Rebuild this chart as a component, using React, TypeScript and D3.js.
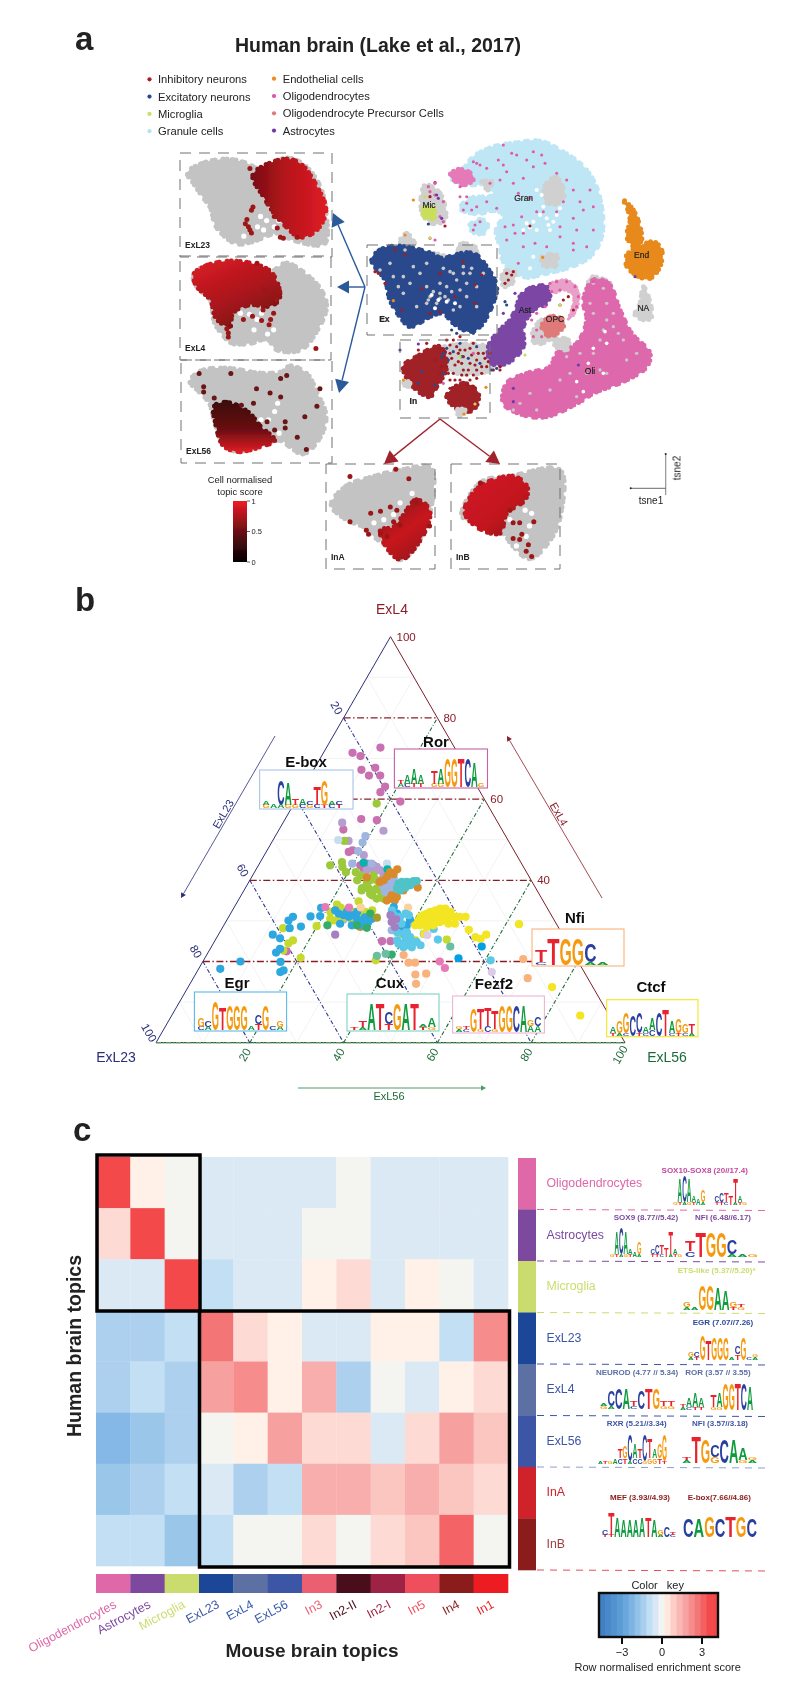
import React from "react";
import * as d3 from "d3";

type P = [number, number];
const FONT = "'Liberation Sans', Arial, sans-serif";

/* ---------- panel a: data ---------- */
const legendLeft = [["Inhibitory neurons", "#a81c2b"], ["Excitatory neurons", "#2a4a8c"], ["Microglia", "#c9df6c"], ["Granule cells", "#b5e3f5"]];
const legendRight = [["Endothelial cells", "#ee8a1a"], ["Oligodendrocytes", "#e04fa8"], ["Oligodendrocyte Precursor Cells", "#e07a7a"], ["Astrocytes", "#6f3ba8"]];

const granCloud: P[] = [[270,105],[310,85],[340,50],[400,20],[470,8],[540,3],[600,30],[660,70],[700,120],[725,200],[725,290],[690,350],[620,385],[560,400],[500,412],[470,400],[430,365],[420,320],[408,270],[430,225],[400,212],[350,222],[300,205],[330,175],[400,165],[385,135],[320,135],[280,122]];
const granSmall: P[] = [[328,258],[360,238],[382,250],[375,278],[345,280]];
const pinkPatch: P[] = [[270,105],[295,88],[330,98],[340,118],[312,135],[285,122]];
const grayPatches: P[][] = [
  [[555,135],[590,112],[612,170],[580,195],[555,180]],
  [[365,125],[395,125],[385,150]],
  [[545,352],[590,345],[585,380],[550,375]],
  [[120,305],[140,280],[165,315]],
  [[290,325],[310,310],[355,330],[340,350]],
  [[215,340],[255,350],[240,362]],
  [[195,135],[240,160],[255,240],[215,250],[185,215]],
  [[850,440],[865,470],[875,530],[860,540],[825,525],[840,490]],
  [[580,598],[625,600],[622,628],[590,622]],
  [[230,632],[380,620],[400,680],[350,702],[270,692]],
  [[430,395],[465,395],[450,438],[430,438]],
  [[515,590],[545,540],[575,590],[530,612]],
  [[690,412],[750,430],[745,470],[690,450]],
  [[130,720],[150,730],[140,745]],
  [[285,810],[315,810],[305,830]]
];
const endCloud: P[] = [[790,180],[820,210],[840,260],[845,300],[830,320],[880,305],[905,330],[900,380],[870,415],[840,412],[800,378],[800,345],[820,325],[800,290],[810,240],[800,200]];
const oliCloud: P[] = [[700,420],[745,430],[780,510],[815,580],[870,640],[860,680],[800,720],[700,760],[660,785],[560,830],[490,825],[430,790],[440,730],[500,700],[570,680],[590,640],[650,610],[680,540],[670,480]];
const astCloud: P[] = [[480,470],[510,445],[570,440],[560,490],[520,510],[490,560],[490,620],[440,670],[395,670],[385,620],[420,570],[450,540],[470,500]];
const opcRing: P[] = [[570,432],[620,420],[655,450],[650,510],[625,540],[640,470],[610,450],[580,460]];
const opcCloud: P[] = [[545,560],[570,530],[610,540],[610,560],[570,590]];
const micCloud: P[] = [[190,205],[220,205],[225,230],[205,238],[190,225]];
const exCloud: P[] = [[35,360],[60,330],[110,318],[200,335],[250,355],[280,345],[340,340],[380,380],[410,440],[395,500],[360,560],[330,575],[280,550],[250,520],[210,530],[150,560],[120,530],[90,480],[75,420]];
const inLeft: P[] = [[130,680],[170,650],[240,620],[260,680],[230,740],[210,770],[160,740]];
const inRight: P[] = [[260,770],[310,730],[355,760],[340,810],[300,810]];

const granPink: P[] = [[340,65],[350,70],[380,85],[415,60],[430,15],[470,45],[455,40],[545,45],[520,80],[490,115],[460,130],[420,120],[390,130],[360,75],[530,215],[550,215],[640,150],[660,185],[610,185],[690,150],[590,215],[600,260],[640,235],[510,175],[485,230],[460,255],[435,260],[465,280],[490,320],[525,310],[600,290],[640,310],[670,210],[700,270],[640,330],[490,280],[320,170],[310,210],[350,200],[345,255],[360,245],[340,270],[410,205],[380,185],[300,140],[320,190],[555,70],[430,75],[520,35],[335,210],[300,170],[440,95],[500,60],[590,100],[475,160],[620,120],[650,270],[440,300],[475,370],[560,320],[680,320],[700,200]];
const granHoles: P[] = [[520,245],[540,225],[560,235],[580,245],[530,270],[500,250],[490,270],[545,165],[530,150],[570,270],[600,205],[520,350],[510,385],[550,200],[565,255],[510,262],[590,225]];
const exGray: P[] = [[135,330],[160,380],[200,370],[250,385],[270,395],[310,380],[330,400],[290,420],[240,430],[200,440],[210,470],[240,475],[265,480],[230,490],[280,510],[350,440],[320,470],[130,460],[170,500],[100,410],[60,390],[90,370],[130,410],[370,400],[300,450],[350,500],[150,430],[205,480],[255,470],[310,400],[200,490],[220,455],[260,440],[320,430],[300,500],[180,400],[115,440],[240,460],[275,455],[335,385],[280,400]];
const exHoles: P[] = [[215,465],[235,480],[260,485],[285,490],[225,505]];
const redDots: P[] = [[105,330],[45,395],[55,400],[75,430],[125,510],[185,445],[240,400],[310,365],[345,435],[365,405],[285,470],[240,515],[210,520],[135,345],[345,490],[240,625],[270,640],[290,620],[310,650],[330,670],[350,660],[370,640],[280,600],[300,590],[340,610],[260,680],[280,700],[310,690],[330,720],[350,690],[380,680],[400,690],[420,690],[270,720],[240,700],[200,610],[175,630],[300,720],[250,650],[260,600],[420,680],[365,700],[440,400],[455,405],[445,420],[435,430],[460,395],[225,128],[210,170],[255,258],[510,258],[610,480],[625,470],[600,495],[640,510],[340,740],[320,705],[295,665],[225,660],
  [255,635],[275,655],[295,640],[315,630],[335,645],[355,640],[375,655],[285,675],[305,670],[325,690],[345,675],[365,680],[265,700],[285,720],[305,705],[320,735],[350,715],[245,680],[270,615],[300,630],[330,625],[385,665],[390,640],[270,745],[340,705]];
const blueDots: P[] = [[250,640],[265,660],[225,735],[185,695],[120,630],[275,570],[305,650],[290,580],[245,650],[350,620],[395,690],[410,685],[175,730],[340,580],[435,485],[440,495],[205,252],[250,700],[300,610],[280,635],[325,655],[260,625],[360,670]];
const pinkDots: P[] = [[210,155],[225,165],[250,185],[240,230],[250,245],[205,140],[225,130],[250,730],[340,640],[570,430],[590,425],[620,425],[645,440],[655,470],[650,500],[520,590],[530,570],[515,540],[530,520],[555,500],[545,590],[575,455],[600,450],[225,300],[210,295],[700,425]];
const purpleDots: P[] = [[230,165],[235,175],[245,235],[465,460],[430,520],[175,612],[825,410],[460,745],[655,675],[460,785]];
const orangeDots: P[] = [[160,180],[378,742],[130,720],[135,285],[100,482],[548,352],[312,822]];
const limeDots: P[] = [[195,170],[300,650],[345,792],[600,495],[210,293],[495,645]];
const oliGray: P[] = [[700,430],[730,445],[740,490],[700,520],[730,570],[760,560],[790,600],[830,640],[700,640],[660,640],[620,650],[680,700],[600,720],[570,750],[510,760],[480,790],[460,810],[740,700],[800,660],[720,600],[690,490],[760,520],[650,770],[530,810],[630,700],[720,690],[740,540],[775,580]];
const oliHoles: P[] = [[735,575],[700,625],[730,700],[670,755],[650,725],[685,670],[740,610]];

const topicPanels = [
  { name: "ExL23", box: [180, 153, 152, 104], grad: "gL23",
    cloud: [[5,19],[15,10],[31,6],[44,10],[53,16],[70,5],[81,11],[92,32],[96,58],[95,87],[75,84],[64,77],[48,85],[37,87],[24,71],[20,52],[15,42],[9,29]] as P[],
    red: [[48,21],[68,6],[79,10],[90,32],[96,55],[90,74],[79,81],[70,71],[62,58],[55,42]] as P[],
    dots: [[45,71],[47,77],[43,68],[66,81],[68,82],[77,81],[47,55],[48,52],[62,61],[58,49],[46,15],[64,72],[46,74],[44,64]] as P[],
    holes: [[53,61],[57,65],[62,71],[51,71],[55,74],[60,52],[65,65],[42,80]] as P[] },
  { name: "ExL4", box: [180, 256, 151, 104], grad: "gL4",
    cloud: [[9,18],[18,9],[38,5],[60,15],[70,7],[82,16],[93,32],[97,48],[91,71],[80,90],[64,90],[58,80],[46,84],[35,84],[31,80],[23,64],[20,42],[11,29]] as P[],
    red: [[9,18],[18,9],[38,5],[60,15],[66,40],[60,48],[46,47],[35,55],[33,68],[24,60],[20,42],[11,29]] as P[],
    dots: [[51,7],[32,74],[32,78],[59,66],[60,61],[55,52],[64,42],[42,61],[48,58],[90,89],[56,32],[62,55],[54,62],[31,70],[66,34]] as P[],
    holes: [[46,56],[51,61],[54,55],[40,55],[58,75],[62,71],[49,71]] as P[] },
  { name: "ExL56", box: [181, 360, 151, 103], grad: "gL56",
    cloud: [[6,21],[13,11],[30,8],[53,13],[68,11],[72,6],[83,13],[90,32],[96,55],[92,75],[81,91],[72,84],[66,78],[48,84],[37,89],[28,81],[22,58],[19,42],[11,29]] as P[],
    red: [[22,45],[30,41],[44,50],[53,65],[62,78],[53,84],[38,89],[28,83],[23,62]] as P[],
    dots: [[15,31],[12,13],[33,13],[66,18],[70,15],[59,32],[66,36],[48,42],[40,44],[90,45],[82,55],[69,60],[77,75],[57,60],[15,26],[22,37],[83,87],[92,28],[50,28],[62,68],[69,66]] as P[],
    holes: [[62,50],[58,58],[65,71],[64,42],[53,58]] as P[] },
  { name: "InA", box: [326, 464, 109, 105], grad: "gInA",
    cloud: [[5,39],[19,21],[44,12],[68,6],[96,4],[96,43],[92,53],[86,72],[69,91],[56,78],[44,69],[35,60],[19,53]] as P[],
    red: [[70,50],[83,34],[95,44],[90,66],[69,91],[56,80],[50,63],[62,60]] as P[],
    dots: [[76,14],[41,47],[50,45],[37,63],[39,67],[59,41],[22,55],[22,12],[95,59],[83,37],[62,55],[68,58],[50,66],[56,69],[65,44],[64,5]] as P[],
    holes: [[44,56],[53,53],[62,48],[68,37],[56,61],[79,28]] as P[] },
  { name: "InB", box: [451, 464, 109, 105], grad: "gInB",
    cloud: [[10,50],[27,18],[58,11],[100,6],[100,50],[91,72],[72,90],[57,78],[48,66],[24,52]] as P[],
    red: [[13,41],[27,21],[58,12],[70,22],[68,34],[51,47],[45,66],[27,62],[14,50]] as P[],
    dots: [[57,71],[63,72],[69,83],[76,55],[57,56],[63,56],[54,44],[27,18],[65,67],[71,77],[74,88]] as P[],
    holes: [[74,47],[72,59],[54,53],[69,69],[60,78],[68,44]] as P[] }
];

const tsneLabels: [string, number, number][] = [["Mic",207,203],["Gran",491,183],["End",845,353],["NA",850,512],["Ast",495,520],["OPC",585,547],["Oli",690,701],["Ex",73,546],["In",160,793]];
const topicTicks: [string, number][] = [["1", 1], ["0.5", 0.5], ["0", 0]];

/* ---------- panel b: data, [ExL56 %, ExL4 %] ---------- */
const terMauve: P[] = [[11.5,72.7],[6.2,71.4],[8.3,70.6],[12.9,67.7],[10.2,67.2],[14.9,65.8],[12.5,65.8],[17.3,63.1],[17,61.7],[22.4,59.4],[16.2,55.1],[19.7,54.8],[13.7,52.5],[17.6,47],[18.2,47.4],[22.8,42.9],[35.7,25],[37.5,25],[21.7,43.7],[16.6,22.5],[22.9,44.1],[24.5,43.7]];
const terLilac: P[] = [[12.6,54.2],[22.4,52.2],[21.2,46.2],[24.5,42.9],[25.8,42.5],[23.7,42.5],[27.4,42],[30,40],[32.7,38.8],[16.2,49.7],[25.4,43.3],[26.5,42.5],[28.1,40.8],[29.4,41.2],[29.7,39.2]];
const terPeri: P[] = [[19.2,50.9],[19.4,49.3],[19.5,47.2],[19.8,44.1],[23.9,44.1],[30.7,39.2],[31,37.1],[24.8,30.3],[36.4,27.7],[29.3,38.4],[30.5,40.4],[30.5,38.2],[30.3,37.1],[31.9,37.5]];
const terPale: P[] = [[13.9,49.9],[27.2,44.1]];
const terGreen: P[] = [[17.6,58.9],[15.3,43.7],[17.4,44.5],[18.1,43.3],[19.5,42],[21.6,42],[23,41.2],[25.2,38.2],[26.3,38],[27.6,37.5],[29.3,35.5],[27.1,40],[25.7,40],[25.8,41.2],[29,37.5],[15.3,49.7],[24.9,38],[25.6,38.8],[30.7,35.5],[27.9,36.3],[22.9,40],[25.2,39.6],[25.1,37.5],[27.3,36.7],[28.1,38],[29.8,36.7]];
const terTeal: P[] = [[22.1,44.3],[28,42.7]];
const terBrown: P[] = [[24.6,40.7],[30.1,42.7],[29.9,41.5],[28.8,41],[27.9,39.6],[36.7,38.2],[32.2,35.5],[33.4,35.9],[34,37.5],[29.3,28.5],[31.7,35],[28.9,42],[28.5,40],[32.1,36.3],[33.4,35]];
const terTurq: P[] = [[32.6,39.6],[33.7,39.6],[35,39.8],[35.7,39.8],[33.4,38.8],[34.8,38.8],[33.3,37.5],[34.1,38.2],[32.4,38],[32.1,39.2],[33.3,38.2],[34.9,39.4]];
const terLime: P[] = [[13,28.2],[16,24.5],[16.6,25.2],[15.8,22.7],[20.4,20.9],[19.9,28.7],[21.1,32.2],[21.6,34],[22.8,30.1],[23.5,30.1],[22.7,33.3],[25.8,34.8],[36.7,20.3],[38.7,26.8],[49.3,25.4],[25.1,32.6],[26.4,32.2],[42.7,25.2],[23.7,32.6],[21.9,30.5],[24.4,30.5],[26.7,30.1],[27.9,31.4],[28.5,32.2],[29.8,32.6]];
const terBlue: P[] = [[13.7,31],[13.2,30.1],[14.4,28.2],[16.6,28.6],[17.4,31.1],[19.4,31.2],[18.6,33.2],[11.6,26.6],[13.6,25.7],[14.5,22.2],[16.6,19.9],[8,20],[4.6,18.2],[18.3,17.8],[17.8,17.4],[14.9,23.1],[23,31.8],[24.3,31.4],[24.6,29.3],[25.6,31],[26.4,31.4],[27.6,30.5],[28.8,30.1],[27.3,28.9],[30.4,29.7],[34,33.4],[35.5,31.8],[39,30.3],[39,28.9],[37.8,28.5],[21.9,32.6],[24.6,32.2],[26.8,32.2],[29.1,30.9],[30.8,30.5],[29.4,28.9]];
const terDeep: P[] = [[54.1,20.8],[57.6,23.7]];
const terCyan: P[] = [[40.2,24.4],[41.5,24],[42.2,24.8],[41,23.5],[43.2,24.8],[38.8,25.2],[41.2,26],[36.6,31],[37.3,31.8],[39.4,26.8],[47.4,25.4],[45.2,28],[61.2,20.3],[43.7,26.8],[44.4,24],[35,31.4],[37.7,29.3],[38.2,31.4],[37.8,27.2],[34,32.6],[39.9,27.2],[39.5,24.4],[42.8,23.5],[40.6,25.2]];
const terYellow: P[] = [[40.8,28.9],[40.9,30.1],[40.9,31],[41.4,31.4],[41.9,31.8],[42.4,32.2],[43.3,32.6],[44.1,33],[45.2,33],[46.7,32.2],[41.9,28.9],[42.5,29.7],[43.4,30.1],[44.1,31],[44.9,31.4],[46,31.4],[47.3,31],[48.3,31],[49.2,31],[50.5,31],[49.1,29.3],[47.7,29.3],[45.7,29.7],[44.7,28.9],[43.5,28.5],[52.8,27.8],[55.1,26],[57.1,26.6],[56.4,25.6],[43.8,26.8],[62.8,29.2],[77.6,13.7],[87.1,6.7],[42.7,30.1],[44,31.8],[45.2,32.2],[45,29.7],[46.6,30.1],[41.8,29.7],[43.3,31]];
const terOrange: P[] = [[42,21.6],[44,19.7],[45.4,19.7],[46.9,16.8],[49.1,17],[48.2,14.5],[68,20.6],[71.3,15.9]];
const terPeach: P[] = [[37.1,33.3],[27,33.3]];
const terPink: P[] = [[50.5,20],[52.4,18.4],[19.4,33.4],[24.5,33.3]];
const terSea: P[] = [[22.1,28.9],[29.8,31.8],[28.4,28.9],[30.8,28.3],[40.1,26.2],[39.4,21.7]];
const terMint: P[] = [[36.4,21.4],[38,21.9],[50.9,23.7]];
const terPaleLilac: P[] = [[62.9,17.4],[44.6,26.5]];
const terPurple: P[] = [[34.3,31.4],[36,30.4],[24.9,26.6],[36.7,28.5],[35.4,29.7]];
const terOlive: P[] = [[31.7,30.8]];
const terSeries: [P[], string][] = [
  [terMauve,"#c96fb0"],[terLilac,"#b79ccf"],[terGreen,"#9bc93a"],[terPeri,"#9fb4de"],[terPale,"#c6dcf0"],[terTeal,"#00b5ad"],[terBrown,"#d98a2c"],[terTurq,"#4fc3c8"],
  [terLime,"#c5d92d"],[terBlue,"#2ea7e0"],[terSea,"#35ad6a"],[terPink,"#e67ab8"],[terPeach,"#fbd29e"],[terCyan,"#5bc8e8"],[terPurple,"#a57fc2"],[terOlive,"#a79a2a"],[terYellow,"#f3e523"],[terOrange,"#f9b27c"],[terMint,"#6bbfa0"],[terPaleLilac,"#dccbe6"],[terDeep,"#069fe6"]
];
const terTicks = [20, 40, 60, 80];
const terMinor = [10, 30, 50, 70, 90];

const terBoxes = [
  { name: "E-box", border: "#a9c4e6", box: [259.6,770,93.4,39], title: [306,767], motif: "A1/G1 A1 C8/A1 A7/G1 T2/G1 A2/C1 C1/G1 T6/C1 G8/T1 A1/C1 C1/T1 ." },
  { name: "Ror", border: "#c85fa8", box: [394.4,749,93.1,39], title: [436,747], motif: "T1/A1 A3/C1 A5/T1 A3/T1 . T4/G1 A5/G1 G9 G9 T9 C9 A8 G1" },
  { name: "Nfi", border: "#f9b27c", box: [532,929,92,37], title: [575,923], motif: "T4/C1 T9 G9 G9 C6/A1 A1 ." },
  { name: "Egr", border: "#5bb8e8", box: [194.4,992,92.2,39], title: [237,988], motif: "G3/C1 C2/A1 G9 T7 G8 G8 G8 A1 C3/T2 G8 C1 G2/A1" },
  { name: "Cux", border: "#7fd0c0", box: [347,994,92,37], title: [390,988], motif: "T1 T2/A1 A9 T9 C4/T2 G9 A9 T9 A1/T1 A3/G1" },
  { name: "Fezf2", border: "#eeb3d6", box: [452.6,996,91.8,37], title: [494,989], motif: "G1/A1 T1/C1 G8 T7/G1 T6/C2 T6/G1 G9 G9 C9 A9 G2/A2 C3/A2" },
  { name: "Ctcf", border: "#f3e523", box: [606.7,999.7,91.3,37], title: [651,992], motif: "A2/T1 G4/A1 G7/C1 C7 C7/T1 A2/C1 A4/C2 C8 T9 A4/C1 G5/T1 G3/C1 T3/A1" }
];

/* ---------- panel c: data ---------- */
const mouseTopics = ["Oligodendrocytes","Astrocytes","Microglia","ExL23","ExL4","ExL56","In3","In2-II","In2-I","In5","In4","In1"];
const mouseColors = ["#de68a8","#7b4a9e","#cbdc6e","#1e4799","#5b6fa3","#3d55a5","#ea5f72","#4a0f1c","#9e2444","#ef4f5c","#8b1a1c","#ed1c24"];
const mouseLabelColors = ["#de68a8","#7b4a9e","#cbdc6e","#3d55a5","#3558ae","#3558ae","#ea5f72","#4a0f1c","#9e2444","#ef4f5c","#8b1a1c","#ed1c24"];
const humanTopics = ["Oligodendrocytes","Astrocytes","Microglia","ExL23","ExL4","ExL56","InA","InB"];
const humanColors = ["#de68a8","#7b4a9e","#cbdc6e","#1e4799","#5b6fa3","#3d55a5","#d0222a","#8b1a1c"];
const humanLabelColors = ["#de68a8","#7b4a9e","#cbdc6e","#3d55a5","#3d55a5","#3d55a5","#d0222a","#a04040"];
const sepColors = ["#de68a8","#7b4a9e","#cbdc6e","#3d55a5","#3d55a5","#8da0c8",null,"#e0505c"];
const enrichment = [
  [3.5,.25,0,-.4,-.4,-.4,-.4,0,-.4,-.4,-.4,-.4],
  [.6,3.5,0,-.4,-.4,-.4,0,0,-.4,-.4,-.4,-.4],
  [-.4,-.4,3.5,-.9,-.4,-.4,.25,.6,-.4,.25,0,-.4],
  [-1.3,-1.3,-.9,2.7,.6,.25,-.4,-.4,.25,.25,-.9,2.2],
  [-1.3,-.9,-1.3,1.8,2.2,.25,1.5,-1.3,0,-.4,.25,.6],
  [-2.1,-1.7,-1.3,0,.25,1.8,.6,.6,-.4,.6,1.8,1],
  [-1.7,-1.3,-.9,-.4,-1.3,-.9,1.5,1.5,1,1.5,1,.6],
  [-.9,-.9,-1.7,-.9,0,0,.6,0,.6,1,3,0]
];
const colorStops = [-4.7,-3,-2.1,-1.7,-1.3,-.9,-.4,0,.25,.6,1,1.5,1.8,2.2,2.7,3.5,4.2];
const colorRange = ["#3b7cc0","#5f9fd8","#85b8e6","#9ac6ea","#aed0ef","#c2dff4","#dbe9f5","#f4f5f1","#fff1e8","#fddbd4","#fbc6c0","#f9aeae","#f7a0a0","#f78c8c","#f47474","#f44a4c","#f04548"];
const keyTicks = [-3, 0, 3];

const motifTitles: [string, string, number, number][] = [
  ["SOX10-SOX8 (20//17.4)","#c04a9e",704.7,1173],
  ["SOX9 (8.77//5.42)","#7b4a9e",646,1220],
  ["NFI (6.48//6.17)","#7b4a9e",723,1220],
  ["ETS-like (5.37//5.20)*","#cbdc6e",716.7,1273],
  ["EGR (7.07//7.26)","#2b4a9e",723,1325],
  ["NEUROD (4.77 // 5.34)","#5b6fa3",637,1375],
  ["ROR (3.57 // 3.55)","#5b6fa3",718,1375],
  ["RXR (5.21//3.34)","#3d55a5",636.7,1426],
  ["NFI (3.57//3.18)","#3d55a5",720,1426],
  ["MEF (3.93//4.93)","#8b1a1c",640,1500],
  ["E-box(7.66//4.86)","#8b1a1c",719.3,1500]
];
const sideLogos: { box: number[]; motif: string }[] = [
  { box: [673,1175,74,30], motif: "G1 A8/T1 C9/A1 A8/G1 A2/T1 A2 G4/A1 . . C2/T1 C3/T1 T3/C1 T3 T8/A1 A2/T1 G1" },
  { box: [610,1228,72,29], motif: "G1 A8/T1 C9/A1 A8/G1 A2/T1 A2 G4/A1 . . C2/T1 C3/T1 T3/C1 T3 T8/A1 A2/T1 G1" },
  { box: [685,1229,73,28], motif: "T4/C2 T9 G9 G9 C5/A1 A1 G1" },
  { box: [683,1282,62,28], motif: "G2/A1 A1 G9 G9 A8 A7 G2/T1 T1/G1" },
  { box: [688,1332,70,28], motif: "G2/A1 C2/T1 G9 T7 G8 G8 G8 A1 C3/T2 G8 C1 G1/A1" },
  { box: [600,1382,75,27], motif: "A1/G1 C6/A1 C8 A8 T2/C1 C7 T8 G8 T2/G1 T2/G1" },
  { box: [680,1380,73,30], motif: "T1/A1 A3/C1 A5/T1 A3/T1 . T4/G1 A5/G1 G9 G9 T9 C9 A8" },
  { box: [593,1435,74,29], motif: ". A1 T1 G1 A2 T3/C2 G4/T2 C9/A1 A5/C2 T3/C2 C9/G1 T7/G2 A3/G2 G5/T2 G9/T1" },
  { box: [682,1433,75,30], motif: "T1/A1 T9 G8 C4/G2 C8 A8 A4/G1 G1/A1" },
  { box: [602,1512,74,25], motif: "C2/T1 T9/T1 A8 A7 A7 A7 A8 T8 A7 G2/A1 C4 T1/C1" },
  { box: [683,1513,74,24], motif: "C8 A8 G9 C8 T9 G9 C8" }
];

/* ---------- helpers ---------- */
const tx = d3.scaleLinear().domain([0, 1200]).range([360, 760]);
const ty = d3.scaleLinear().domain([0, 960]).range([140, 460]);
const tsnePath = d3.line<P>().x(d => tx(d[0])).y(d => ty(d[1])).curve(d3.curveCatmullRomClosed.alpha(0.5));

const hS = d3.scaleLinear().domain([0, 100]).range([156, 625]);
const tS = d3.scaleLinear().domain([0, 100]).range([1042.7, 636.7]);
const proj = (r: number, t: number): P => [hS(r + t / 2), tS(t)];

const letterColor: Record<string, string> = { A: "#0d9b3d", C: "#2b3f9f", G: "#f59a0e", T: "#e8242d" };
const letterWidth: Record<string, number> = { A: 7.22, C: 7.22, G: 7.78, T: 6.11 };
const BUMPS = "0 3.5 0 6.5 0 2.5 0 8 0 4 0 5.5";

function Logo({ box, motif }: { box: number[]; motif: string }) {
  const [x, y, w, h] = box;
  const cols = motif.split(" ");
  const band = d3.scaleBand<number>().domain(d3.range(cols.length)).range([x, x + w]).padding(0);
  const hh = d3.scaleLinear().domain([0, 10]).range([0, h]);
  const out: React.ReactNode[] = [];
  cols.forEach((col, i) => {
    if (col === ".") return;
    let base = y + h;
    col.split("/").reverse().forEach((tok, j) => {
      const L = tok[0];
      const lh = hh(+tok.slice(1));
      const sy = lh / 7.2;
      const sx = band.bandwidth() / letterWidth[L];
      out.push(
        <text key={i + "-" + j} transform={`translate(${band(i)! + band.bandwidth() / 2},${base}) scale(${sx},${sy})`}
          fontSize={10} fontWeight="bold" textAnchor="middle" fill={letterColor[L]}>{L}</text>
      );
      base -= lh;
    });
  });
  return <g>{out}</g>;
}

function Cloud({ pts, fill, edge = 5 }: { pts: P[]; fill: string; edge?: number }) {
  const d = tsnePath(pts)!;
  return <g><path d={d} fill={fill} stroke={fill} strokeWidth={1} />
    <path d={d} fill="none" stroke={fill} strokeWidth={edge} strokeLinecap="round" strokeDasharray={BUMPS} /></g>;
}
function Dots({ pts, fill, r = 1.6 }: { pts: P[]; fill: string; r?: number }) {
  return <g>{pts.map((p, i) => <circle key={i} cx={tx(p[0])} cy={ty(p[1])} r={r} fill={fill} />)}</g>;
}
function Arrow({ from, to, color, size = 12, width = 1.4 }: { from: P; to: P; color: string; size?: number; width?: number }) {
  const a = Math.atan2(to[1] - from[1], to[0] - from[0]);
  const bx = to[0] - size * Math.cos(a), by = to[1] - size * Math.sin(a);
  const nx = -Math.sin(a) * size * 0.55, ny = Math.cos(a) * size * 0.55;
  return <g>
    <line x1={from[0]} y1={from[1]} x2={bx} y2={by} stroke={color} strokeWidth={width} />
    <polygon points={`${to[0]},${to[1]} ${bx + nx},${by + ny} ${bx - nx},${by - ny}`} fill={color} />
  </g>;
}
function DashBox({ x, y, w, h }: { x: number; y: number; w: number; h: number }) {
  return <rect x={x} y={y} width={w} height={h} fill="none" stroke="#707070" strokeWidth={1} strokeDasharray="11 8" />;
}
function TopicPanel({ p }: { p: typeof topicPanels[number] }) {
  const [x, y, w, h] = p.box;
  const u = d3.scaleLinear().domain([0, 100]).range([x, x + w]);
  const v = d3.scaleLinear().domain([0, 100]).range([y, y + h]);
  const line = d3.line<P>().x(d => u(d[0])).y(d => v(d[1])).curve(d3.curveCatmullRomClosed.alpha(0.5));
  return <g>
    <path d={line(p.cloud)!} fill="#c3c3c3" stroke="#c3c3c3" strokeWidth={5.5} strokeLinecap="round" strokeDasharray={BUMPS} />
    <path d={line(p.cloud)!} fill="#c3c3c3" />
    {p.holes.map((d, i) => <circle key={i} cx={u(d[0])} cy={v(d[1])} r={2.6} fill="#fff" />)}
    <path d={line(p.red)!} fill={`url(#${p.grad})`} stroke={`url(#${p.grad})`} strokeWidth={5} strokeLinecap="round" strokeDasharray={BUMPS} />
    {p.dots.map((d, i) => <circle key={i} cx={u(d[0])} cy={v(d[1])} r={2.5} fill={p.name === "ExL56" ? "#6a1216" : "#9c1419"} />)}
    <DashBox x={x} y={y} w={w} h={h} />
    <text x={x + 5} y={y + h - 9} fontSize={8.5} fontWeight="bold" fill="#222">{p.name}</text>
  </g>;
}

const greenDark = "#1f6b3a", navy = "#2b2f7a", wine = "#8b1e28";

export default function App() {
  const color = d3.scaleLinear<string>().domain(colorStops).range(colorRange).clamp(true);
  const hx = d3.scaleBand<number>().domain(d3.range(mouseTopics.length)).range([96, 508]);
  const hy = d3.scaleBand<number>().domain(d3.range(humanTopics.length)).range([1157, 1566]);
  const sideY = d3.scaleBand<number>().domain(d3.range(humanTopics.length)).range([1158, 1570]);
  const keyX = d3.scaleLinear().domain([-4.725, 4.2]).range([599, 718]);
  const keyBins = d3.range(-4.725, 4.2, 8.925 / 20);
  const topicY = d3.scaleLinear().domain([0, 1]).range([562, 501]);

  const edge = (a: P, b: P, c: string, w = 1, dash?: string, key?: string) => {
    const [x1, y1] = proj(a[0], a[1]); const [x2, y2] = proj(b[0], b[1]);
    return <line key={key} x1={x1} y1={y1} x2={x2} y2={y2} stroke={c} strokeWidth={w} strokeDasharray={dash} />;
  };

  return (
    <svg width={800} height={1703} viewBox="0 0 800 1703" style={{ position: "absolute", left: 0, top: 0, fontFamily: FONT }}>
      <defs>
        <filter id="soft" x="0" y="0" width="800" height="1703" filterUnits="userSpaceOnUse"><feGaussianBlur stdDeviation="0.4" /></filter>
        <linearGradient id="gL23" x1="0" x2="1" y1="0" y2="0"><stop offset="0" stopColor="#7a0f14" /><stop offset="0.45" stopColor="#b5141b" /><stop offset="1" stopColor="#dd1c24" /></linearGradient>
        <linearGradient id="gL4" x1="0" x2="0.6" y1="0" y2="1"><stop offset="0" stopColor="#dc1c24" /><stop offset="0.6" stopColor="#ab161c" /><stop offset="1" stopColor="#7e1015" /></linearGradient>
        <linearGradient id="gL56" x1="0" x2="0" y1="0" y2="1"><stop offset="0" stopColor="#3d070a" /><stop offset="0.55" stopColor="#6a0e12" /><stop offset="1" stopColor="#dd1c24" /></linearGradient>
        <linearGradient id="gInA" x1="0" x2="0.6" y1="0" y2="1"><stop offset="0" stopColor="#7e1015" /><stop offset="0.6" stopColor="#c8181f" /><stop offset="1" stopColor="#a01419" /></linearGradient>
        <linearGradient id="gInB" x1="0" x2="1" y1="0" y2="1"><stop offset="0" stopColor="#d11a22" /><stop offset="0.6" stopColor="#c2181f" /><stop offset="1" stopColor="#8a1217" /></linearGradient>
        <linearGradient id="gTopic" x1="0" x2="0" y1="1" y2="0"><stop offset="0" stopColor="#000" /><stop offset="0.5" stopColor="#6a1015" /><stop offset="1" stopColor="#ee1c25" /></linearGradient>
      </defs>

      <g filter="url(#soft)">
      {/* panel letters */}
      <text x={75} y={50} fontSize={33} fontWeight="bold" fill="#222">a</text>
      <text x={75} y={611} fontSize={33} fontWeight="bold" fill="#222">b</text>
      <text x={73} y={1141} fontSize={33} fontWeight="bold" fill="#222">c</text>

      {/* panel a */}
      <text x={378} y={52} textAnchor="middle" fontSize={19.5} fontWeight="bold" fill="#222">Human brain (Lake et al., 2017)</text>
      {legendLeft.map(([t, c], i) => <g key={t}>
        <circle cx={149.5} cy={79.3 + i * 17.3} r={2.1} fill={c} />
        <text x={158} y={83.2 + i * 17.3} fontSize={11.2} fill="#222">{t}</text></g>)}
      {legendRight.map(([t, c], i) => <g key={t}>
        <circle cx={274} cy={78.7 + i * 17.3} r={2.1} fill={c} />
        <text x={282.7} y={82.6 + i * 17.3} fontSize={11.2} fill="#222">{t}</text></g>)}

      {topicPanels.map(p => <TopicPanel key={p.name} p={p} />)}

      <Arrow from={[365, 287]} to={[333, 213]} color="#2a5a9a" size={13} />
      <Arrow from={[365, 287]} to={[337, 287]} color="#2a5a9a" size={12} />
      <Arrow from={[365, 287]} to={[339, 393]} color="#2a5a9a" size={13} />
      <Arrow from={[440, 419]} to={[384, 464]} color="#a1242a" size={13} />
      <Arrow from={[440, 419]} to={[500, 464]} color="#a1242a" size={13} />

      {/* main t-SNE */}
      {grayPatches.slice(3, 8).map((g, i) => <Cloud key={i} pts={g} fill="#d0d0d0" />)}
      <Cloud pts={granCloud} fill="#bfe6f5" />
      <Cloud pts={granSmall} fill="#bfe6f5" />
      {grayPatches.slice(0, 3).map((g, i) => <Cloud key={i} pts={g} fill="#d0d0d0" />)}
      <Dots pts={granHoles} fill="#ffffff" r={2} />
      <Cloud pts={pinkPatch} fill="#e679b8" />
      <Dots pts={granPink} fill="#e05aa8" r={1.5} />
      <Cloud pts={endCloud} fill="#e8891c" />
      <Cloud pts={grayPatches[12]} fill="#d0d0d0" />
      <Cloud pts={oliCloud} fill="#de68ac" />
      <Dots pts={oliGray} fill="#cfc4cc" r={1.7} />
      <Dots pts={oliHoles} fill="#ffffff" r={1.8} />
      {grayPatches.slice(8, 12).map((g, i) => <Cloud key={i} pts={g} fill="#d0d0d0" />)}
      <Cloud pts={astCloud} fill="#7b46a4" />
      <Cloud pts={opcRing} fill="#e8a0c8" edge={3} />
      <Cloud pts={opcCloud} fill="#df7a7a" />
      <Cloud pts={micCloud} fill="#c9df5c" />
      <Cloud pts={exCloud} fill="#2a4a8c" />
      <Dots pts={exGray} fill="#c8c8c8" r={1.8} />
      <Dots pts={exHoles} fill="#ffffff" r={2} />
      <Cloud pts={inLeft} fill="#a12126" />
      <Cloud pts={inRight} fill="#a12126" />
      {grayPatches.slice(13).map((g, i) => <Cloud key={i} pts={g} fill="#d0d0d0" />)}
      <Dots pts={redDots} fill="#a01c24" />
      <Dots pts={blueDots} fill="#2a4a8c" />
      <Dots pts={pinkDots} fill="#e05aa8" />
      <Dots pts={purpleDots} fill="#6f3ba8" />
      <Dots pts={orangeDots} fill="#ee8a1a" />
      <Dots pts={limeDots} fill="#c9df5c" />
      {tsneLabels.map(([t, x, y]) => <text key={t} x={tx(x)} y={ty(y)} textAnchor="middle" fontSize={8.5} fontWeight={t === "Ex" || t === "In" ? "bold" : "normal"} stroke="#222" strokeWidth={0.2} fill="#222">{t}</text>)}
      <DashBox x={367} y={245} w={130} h={90} />
      <DashBox x={400} y={340} w={90} h={78} />

      {/* tsne axes */}
      <line x1={665.7} x2={665.7} y1={454} y2={495} stroke="#8a8a8a" strokeWidth={1.1} />
      <line x1={630.7} x2={665.7} y1={488.3} y2={488.3} stroke="#444" strokeWidth={0.8} />
      <circle cx={665.7} cy={454} r={1} fill="#222" /><circle cx={630.7} cy={488.3} r={1} fill="#222" />
      <text transform="translate(680.5,468) rotate(-90)" textAnchor="middle" fontSize={10} fill="#222">tsne2</text>
      <text x={651} y={504} textAnchor="middle" fontSize={10} fill="#222">tsne1</text>

      {/* topic score colour bar */}
      <text x={240} y={483} textAnchor="middle" fontSize={9.4} fill="#222">Cell normalised</text>
      <text x={240} y={495} textAnchor="middle" fontSize={9.4} fill="#222">topic score</text>
      <rect x={233} y={topicY(1)} width={14} height={topicY(0) - topicY(1)} fill="url(#gTopic)" />
      {topicTicks.map(([t, v]) => <g key={t}>
        <line x1={247} x2={250} y1={topicY(v)} y2={topicY(v)} stroke="#222" strokeWidth={0.7} />
        <text x={251.5} y={topicY(v) + 2.6} fontSize={7.5} fill="#222">{t}</text></g>)}

      {/* panel b: ternary */}
      {terMinor.map(v => <g key={v}>
        {edge([0, v], [100 - v, v], "#ececec", 0.7)}
        {edge([v, 0], [v, 100 - v], "#ececec", 0.7)}
        {edge([0, 100 - v], [100 - v, 0], "#ececec", 0.7)}
      </g>)}
      {edge([0, 0], [0, 100], navy, 1)}
      {edge([0, 100], [100, 0], "#7a1e28", 1)}
      {edge([0, 0], [100, 0], greenDark, 1.2)}
      {edge([0, 0], [100, 0], "#6d8f5a", 1.2, "5 2 1 2")}
      {terTicks.map(v => <g key={v}>
        {edge([0, 100 - v], [100 - v, 0], "#2f3a8c", 1.1, "4 2 1 2")}
        {edge([v, 0], [v, 100 - v], greenDark, 1.1, "4 2 1 2")}
      </g>)}
      {terTicks.map(v => <g key={v}>{edge([0, v], [100 - v, v], wine, 1.3, "7 2.5 1.5 2.5")}</g>)}
      {terTicks.concat([100]).map(v => {
        const [rx, ry] = proj(100 - v, v);
        const [lx, ly] = proj(0, 100 - v);
        const [bx, by] = proj(v, 0);
        return <g key={v} fontSize={11.5}>
          <text x={rx + 6} y={ry + 4} fill={wine}>{v}</text>
          <text transform={`translate(${lx - 7},${ly - 10}) rotate(60)`} textAnchor="middle" dominantBaseline="central" fill={navy}>{v}</text>
          <text transform={`translate(${bx - 5},${by + 12}) rotate(-60)`} textAnchor="middle" dominantBaseline="central" fill={greenDark}>{v}</text>
        </g>;
      })}
      {terSeries.map(([pts, c], k) => <g key={k}>{pts.map((p, i) => {
        const [x, y] = proj(p[0], p[1]);
        return <circle key={i} cx={x} cy={y} r={4.1} fill={c} />;
      })}</g>)}
      {terBoxes.map(b => <g key={b.name}>
        <rect x={b.box[0]} y={b.box[1]} width={b.box[2]} height={b.box[3]} fill="#fff" stroke={b.border} strokeWidth={1.1} />
        <Logo box={[b.box[0] + 3, b.box[1] + 6, b.box[2] - 6, b.box[3] - 7]} motif={b.motif} />
        <text x={b.title[0]} y={b.title[1]} textAnchor="middle" fontSize={15} fontWeight="bold" fill="#111">{b.name}</text>
      </g>)}
      <text x={392} y={614} textAnchor="middle" fontSize={14} fill={wine}>ExL4</text>
      <text x={116} y={1062} textAnchor="middle" fontSize={14} fill={navy}>ExL23</text>
      <text x={667} y={1062} textAnchor="middle" fontSize={14} fill={greenDark}>ExL56</text>
      <Arrow from={[275, 736]} to={[181, 898]} color={navy} size={5} width={0.8} />
      <Arrow from={[602, 898]} to={[507, 736]} color={wine} size={5} width={0.8} />
      <Arrow from={[298, 1088]} to={[486, 1088]} color="#4f9a6a" size={5} width={1} />
      <text transform="translate(223,814) rotate(-60)" textAnchor="middle" dominantBaseline="central" fontSize={11} fill={navy}>ExL23</text>
      <text transform="translate(559,814) rotate(60)" textAnchor="middle" dominantBaseline="central" fontSize={11} fill={wine}>ExL4</text>
      <text x={389} y={1100} textAnchor="middle" fontSize={11} fill={greenDark}>ExL56</text>

      {/* panel c: heatmap */}
      {enrichment.map((row, i) => row.map((v, j) =>
        <rect key={i + "-" + j} x={hx(j)} y={hy(i)} width={hx.bandwidth() + 0.3} height={hy.bandwidth() + 0.3} fill={color(v)} />))}
      <rect x={97} y={1155} width={103} height={156} fill="none" stroke="#000" strokeWidth={3.5} />
      <rect x={199.5} y={1311} width={310} height={256} fill="none" stroke="#000" strokeWidth={3.5} />
      {mouseTopics.map((t, i) => <g key={t}>
        <rect x={hx(i)} y={1574} width={hx.bandwidth() + 0.3} height={19} fill={mouseColors[i]} />
        <text transform={`translate(${hx(i)! + hx.bandwidth() / 2 + 4},1607) rotate(-28)`} textAnchor="end" fontSize={12.5} fill={mouseLabelColors[i]}>{t}</text>
      </g>)}
      <text x={312} y={1657} textAnchor="middle" fontSize={19} fontWeight="bold" fill="#222">Mouse brain topics</text>
      <text transform="translate(81,1346) rotate(-90)" textAnchor="middle" fontSize={19.5} fontWeight="bold" fill="#222">Human brain topics</text>

      {humanTopics.map((t, i) => <g key={t}>
        <rect x={518} y={sideY(i)} width={18} height={sideY.bandwidth() + 0.3} fill={humanColors[i]} />
        <text x={546.5} y={sideY(i)! + sideY.bandwidth() / 2 + 3.5} fontSize={12.3} fill={humanLabelColors[i]}>{t}</text>
        {sepColors[i] && <line x1={537} x2={768} y1={sideY(i)! + sideY.bandwidth()} y2={sideY(i)! + sideY.bandwidth() + 1} stroke={sepColors[i]!} strokeWidth={1} strokeDasharray="7 6" />}
      </g>)}
      {motifTitles.map(([t, c, x, y], i) => <text key={i} x={x} y={y} textAnchor="middle" fontSize={8} fontWeight="bold" fill={c}>{t}</text>)}
      {sideLogos.map((l, i) => <Logo key={i} box={l.box} motif={l.motif} />)}

      {/* colour key */}
      <text x={657.7} y={1589} textAnchor="middle" fontSize={11} fill="#222" xmlSpace="preserve">Color   key</text>
      {keyBins.map((v, i) => <rect key={i} x={keyX(v)} y={1593} width={keyX(v + 8.925 / 20) - keyX(v) + 0.3} height={44} fill={color(v + 8.925 / 40)} />)}
      <rect x={599} y={1593} width={119} height={44} fill="none" stroke="#111" strokeWidth={2.4} />
      {keyTicks.map(v => <g key={v}>
        <line x1={keyX(v)} x2={keyX(v)} y1={1637} y2={1644} stroke="#111" strokeWidth={2} />
        <text x={keyX(v)} y={1656} textAnchor="middle" fontSize={11} fill="#222">{v < 0 ? "\u2212" + Math.abs(v) : v}</text>
      </g>)}
      <text x={657.7} y={1671} textAnchor="middle" fontSize={11} fill="#222">Row normalised enrichment score</text>
      </g>
    </svg>
  );
}
